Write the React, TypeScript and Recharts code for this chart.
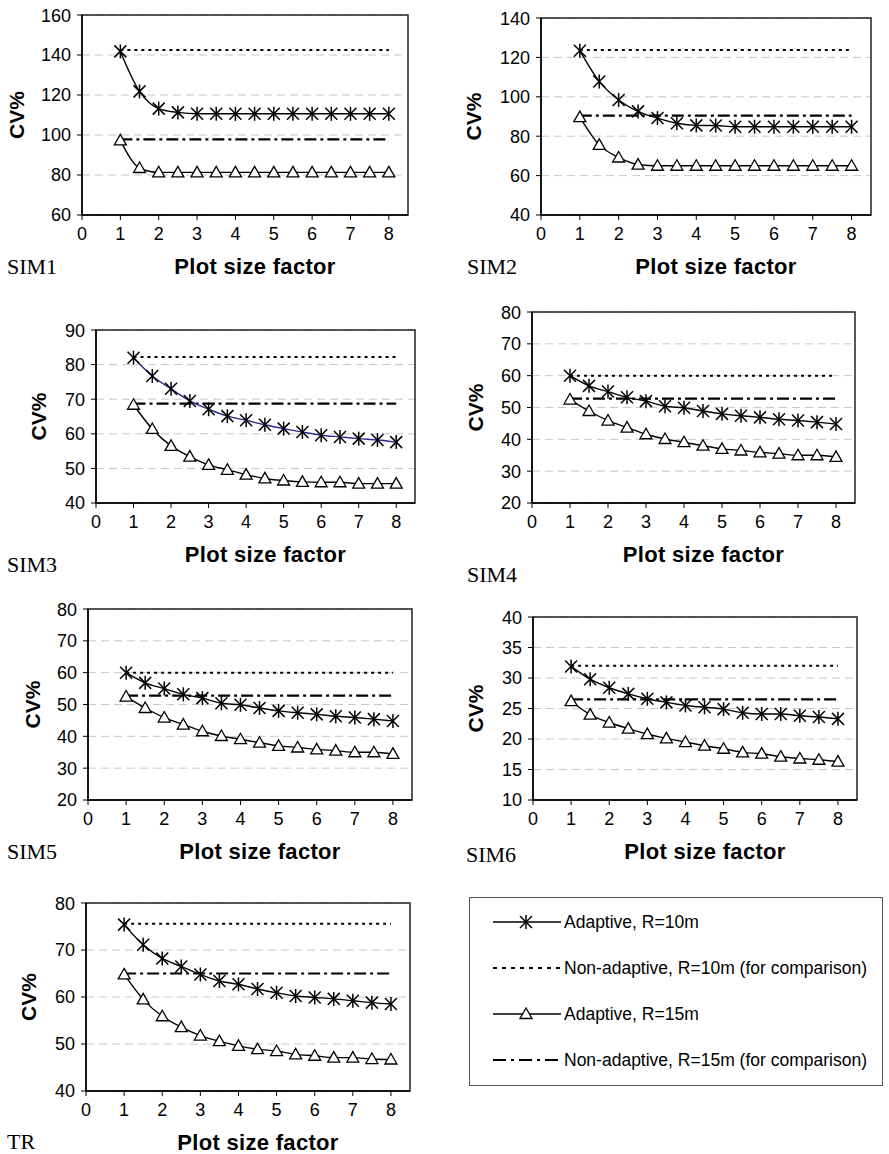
import React from 'react';
import { LineChart, Line, XAxis, YAxis, CartesianGrid, ReferenceLine, ReferenceArea } from 'recharts';

// plot size factors (x)
const xFactor = [1, 1.5, 2, 2.5, 3, 3.5, 4, 4.5, 5, 5.5, 6, 6.5, 7, 7.5, 8];
const xTicks = [0, 1, 2, 3, 4, 5, 6, 7, 8];

// CV% values
const sim1Adaptive10 = [141.8, 121.8, 113.2, 111.3, 110.6, 110.6, 110.6, 110.6, 110.6, 110.6, 110.6, 110.6, 110.6, 110.6, 110.6];
const sim1Adaptive15 = [97.3, 83.5, 81.3, 81.3, 81.3, 81.3, 81.3, 81.3, 81.3, 81.3, 81.3, 81.3, 81.3, 81.3, 81.3];
const sim1Fixed = [142.5, 97.8];
const sim1Ticks = [60, 80, 100, 120, 140, 160];

const sim2Adaptive10 = [123.4, 107.8, 98.4, 92.6, 89.2, 86.6, 85.5, 85.4, 84.8, 84.8, 84.8, 84.8, 84.8, 84.8, 84.8];
const sim2Adaptive15 = [89.7, 75.6, 69.2, 65.6, 65, 65, 65, 65, 65, 65, 65, 65, 65, 65, 65];
const sim2Fixed = [123.8, 90.4];
const sim2Ticks = [40, 60, 80, 100, 120, 140];

const sim3Adaptive10 = [82, 76.7, 73, 69.5, 67.1, 65.1, 63.9, 62.6, 61.5, 60.5, 59.6, 59.1, 58.6, 58.2, 57.6];
const sim3Adaptive15 = [68.4, 61.4, 56.5, 53.4, 51, 49.6, 48.2, 47.1, 46.5, 46.1, 46, 46, 45.6, 45.6, 45.6];
const sim3Fixed = [82.2, 68.7];
const sim3Ticks = [40, 50, 60, 70, 80, 90];

const sim4Adaptive10 = [60, 56.8, 55, 53.2, 52, 50.4, 49.9, 48.9, 48, 47.4, 46.9, 46.3, 45.9, 45.4, 44.8];
const sim4Adaptive15 = [52.5, 48.9, 45.9, 43.7, 41.6, 40.1, 39.1, 38, 37, 36.5, 35.9, 35.5, 35, 35, 34.5];
const sim4Fixed = [60, 52.8];
const sim4Ticks = [20, 30, 40, 50, 60, 70, 80];

const sim5Adaptive10 = [60, 56.8, 55, 53.2, 52, 50.4, 49.9, 48.9, 48, 47.4, 46.9, 46.3, 45.9, 45.4, 44.8];
const sim5Adaptive15 = [52.5, 48.9, 45.9, 43.7, 41.6, 40.1, 39.1, 38, 37, 36.5, 35.9, 35.5, 35, 35, 34.5];
const sim5Fixed = [60, 52.8];
const sim5Ticks = [20, 30, 40, 50, 60, 70, 80];

const sim6Adaptive10 = [31.9, 29.8, 28.4, 27.4, 26.6, 26, 25.5, 25.2, 24.9, 24.3, 24.1, 24.1, 23.8, 23.6, 23.3];
const sim6Adaptive15 = [26.2, 24, 22.7, 21.7, 20.8, 20.1, 19.5, 18.9, 18.4, 17.8, 17.6, 17.1, 16.8, 16.6, 16.3];
const sim6Fixed = [32, 26.5];
const sim6Ticks = [10, 15, 20, 25, 30, 35, 40];

const trAdaptive10 = [75.4, 71.1, 68.2, 66.5, 64.8, 63.4, 62.7, 61.7, 60.9, 60.2, 59.9, 59.6, 59.2, 58.8, 58.5];
const trAdaptive15 = [64.8, 59.5, 55.9, 53.6, 51.8, 50.6, 49.6, 48.9, 48.5, 47.8, 47.5, 47.1, 47.1, 46.8, 46.7];
const trFixed = [75.6, 65];
const trTicks = [40, 50, 60, 70, 80];

const panelNames = ['SIM1', 'SIM2', 'SIM3', 'SIM4', 'SIM5', 'SIM6', 'TR'];
const legendLabels = [
  'Adaptive, R=10m',
  'Non-adaptive, R=10m (for comparison)',
  'Adaptive, R=15m',
  'Non-adaptive, R=15m (for comparison)',
];

const panelData = [
  { a10: sim1Adaptive10, a15: sim1Adaptive15, fixed: sim1Fixed, ticks: sim1Ticks },
  { a10: sim2Adaptive10, a15: sim2Adaptive15, fixed: sim2Fixed, ticks: sim2Ticks },
  { a10: sim3Adaptive10, a15: sim3Adaptive15, fixed: sim3Fixed, ticks: sim3Ticks },
  { a10: sim4Adaptive10, a15: sim4Adaptive15, fixed: sim4Fixed, ticks: sim4Ticks },
  { a10: sim5Adaptive10, a15: sim5Adaptive15, fixed: sim5Fixed, ticks: sim5Ticks },
  { a10: sim6Adaptive10, a15: sim6Adaptive15, fixed: sim6Fixed, ticks: sim6Ticks },
  { a10: trAdaptive10, a15: trAdaptive15, fixed: trFixed, ticks: trTicks },
];

// plot-area boxes in page pixels, and where the panel name sits
const layout = [
  { l: 82, t: 15, r: 408, b: 215, yLab: 65, nameX: 7, nameY: 267, line10: '#000' },
  { l: 541, t: 18, r: 871, b: 215, yLab: 67, nameX: 467, nameY: 267, line10: '#000' },
  { l: 96, t: 330, r: 415, b: 503, yLab: 57, nameX: 7, nameY: 565, line10: '#2b2b8c' },
  { l: 532, t: 312, r: 855, b: 503, yLab: 56, nameX: 467, nameY: 575, line10: '#000' },
  { l: 88, t: 609, r: 412, b: 800, yLab: 55, nameX: 7, nameY: 852, line10: '#000' },
  { l: 533, t: 617, r: 857, b: 800, yLab: 57, nameX: 466, nameY: 855, line10: '#000' },
  { l: 86, t: 903, r: 410, b: 1091, yLab: 57, nameX: 7, nameY: 1142, line10: '#000' },
];

const X_MAX = 8.5;
const X_AXIS_H = 72;
const DOTTED = '3 4';
const DASHDOT = '12 4 3 4';
const SANS = "Arial, 'Liberation Sans', sans-serif";

const StarDot = (props: any) => {
  const { cx, cy } = props;
  if (cx == null || cy == null) return null;
  const s = 6;
  return (
    <g stroke="#000" strokeWidth={1.5} fill="none">
      <line x1={cx - s} y1={cy - s} x2={cx + s} y2={cy + s} />
      <line x1={cx - s} y1={cy + s} x2={cx + s} y2={cy - s} />
      <line x1={cx} y1={cy - s - 1} x2={cx} y2={cy + s + 1} />
    </g>
  );
};

const TriDot = (props: any) => {
  const { cx, cy } = props;
  if (cx == null || cy == null) return null;
  return (
    <path
      d={`M${cx},${cy - 6} L${cx + 6},${cy + 4.5} L${cx - 6},${cy + 4.5} Z`}
      fill="#fff"
      stroke="#000"
      strokeWidth={1.3}
    />
  );
};

const XTitle = (props: any) => {
  const { viewBox } = props;
  if (!viewBox) return null;
  return (
    <text
      x={viewBox.x + viewBox.width / 2 + 10}
      y={viewBox.y + 59}
      textAnchor="middle"
      fontFamily={SANS}
      fontWeight="bold"
      fontSize={22}
      letterSpacing={0.3}
      fill="#000"
    >
      Plot size factor
    </text>
  );
};

const tickStyle = { fontSize: 18, fill: '#000', fontFamily: SANS };

function Panel({ idx }: { idx: number }) {
  const d = panelData[idx];
  const box = layout[idx];
  const rows = xFactor.map((x, i) => ({ x, a10: d.a10[i], a15: d.a15[i] }));
  const yMin = d.ticks[0];
  const yMax = d.ticks[d.ticks.length - 1];
  const width = box.r - box.l + 92;
  const height = box.b - box.t + 10 + X_AXIS_H;
  const x0 = xFactor[0];
  const x1 = xFactor[xFactor.length - 1];

  return (
    <div style={{ position: 'absolute', left: box.l - 82, top: box.t - 10 }}>
      <LineChart width={width} height={height} data={rows} margin={{ top: 10, right: 10, left: 10, bottom: 0 }}>
        <CartesianGrid vertical={false} stroke="#c8c8c8" strokeDasharray="8 5" />
        <XAxis
          dataKey="x"
          type="number"
          domain={[0, X_MAX]}
          ticks={xTicks}
          allowDataOverflow
          height={X_AXIS_H}
          tick={tickStyle}
          tickSize={5}
          tickMargin={7}
          axisLine={{ stroke: '#000', strokeWidth: 1.5 }}
          tickLine={{ stroke: '#000' }}
          label={<XTitle />}
        />
        <YAxis
          type="number"
          domain={[yMin, yMax]}
          ticks={d.ticks}
          allowDataOverflow
          width={72}
          tick={tickStyle}
          tickSize={5}
          tickMargin={6}
          axisLine={{ stroke: '#000', strokeWidth: 1.5 }}
          tickLine={{ stroke: '#000' }}
          label={{
            value: 'CV%',
            angle: -90,
            position: 'insideLeft',
            offset: 72 - box.yLab,
            style: { textAnchor: 'middle', fontSize: 21, fontWeight: 'bold', fill: '#000', fontFamily: SANS },
          }}
        />
        <ReferenceArea x1={0} x2={X_MAX} y1={yMin} y2={yMax} fill="none" stroke="#222" strokeWidth={1.5} />
        <ReferenceLine segment={[{ x: x0, y: d.fixed[0] }, { x: x1, y: d.fixed[0] }]} stroke="#000" strokeWidth={2} strokeDasharray={DOTTED} />
        <ReferenceLine segment={[{ x: x0, y: d.fixed[1] }, { x: x1, y: d.fixed[1] }]} stroke="#000" strokeWidth={2.2} strokeDasharray={DASHDOT} />
        <Line type="monotone" dataKey="a10" stroke={box.line10} strokeWidth={1.4} dot={<StarDot />} activeDot={false} isAnimationActive={false} />
        <Line type="monotone" dataKey="a15" stroke="#000" strokeWidth={1.4} dot={<TriDot />} activeDot={false} isAnimationActive={false} />
      </LineChart>
      <div
        style={{
          position: 'absolute',
          left: box.nameX - (box.l - 82),
          top: box.nameY - (box.t - 10) - 13,
          fontFamily: "'Liberation Serif', 'Times New Roman', serif",
          fontSize: 22,
          lineHeight: '26px',
          whiteSpace: 'nowrap',
        }}
      >
        {panelNames[idx]}
      </div>
    </div>
  );
}

function LegendSample({ kind }: { kind: number }) {
  return (
    <svg width={68} height={14} style={{ display: 'block' }}>
      {kind === 0 && (
        <>
          <line x1={0} y1={7} x2={68} y2={7} stroke="#000" strokeWidth={1.4} />
          <StarDot cx={33} cy={7} />
        </>
      )}
      {kind === 1 && <line x1={0} y1={7} x2={68} y2={7} stroke="#000" strokeWidth={2} strokeDasharray="4 5" />}
      {kind === 2 && (
        <>
          <line x1={0} y1={7} x2={68} y2={7} stroke="#000" strokeWidth={1.4} />
          <TriDot cx={33} cy={7} />
        </>
      )}
      {kind === 3 && <line x1={0} y1={7} x2={68} y2={7} stroke="#000" strokeWidth={2.2} strokeDasharray="13 5 3 5" />}
    </svg>
  );
}

export default function App() {
  const rowTops = [24, 70, 116, 162];
  return (
    <div style={{ position: 'absolute', left: 0, top: 0, width: 889, height: 1154, background: '#fff', overflow: 'hidden' }}>
      {panelNames.map((_, i) => (
        <Panel key={i} idx={i} />
      ))}
      <div
        style={{
          position: 'absolute',
          left: 469,
          top: 897,
          width: 414,
          height: 189,
          border: '1px solid #555',
          boxSizing: 'border-box',
        }}
      >
        {legendLabels.map((lab, i) => (
          <div
            key={lab}
            style={{ position: 'absolute', left: 23, top: rowTops[i] - 10, height: 20, display: 'flex', alignItems: 'center', whiteSpace: 'nowrap' }}
          >
            <LegendSample kind={i} />
            <span style={{ marginLeft: 3, fontFamily: SANS, fontSize: 17.5, color: '#000' }}>{lab}</span>
          </div>
        ))}
      </div>
    </div>
  );
}
